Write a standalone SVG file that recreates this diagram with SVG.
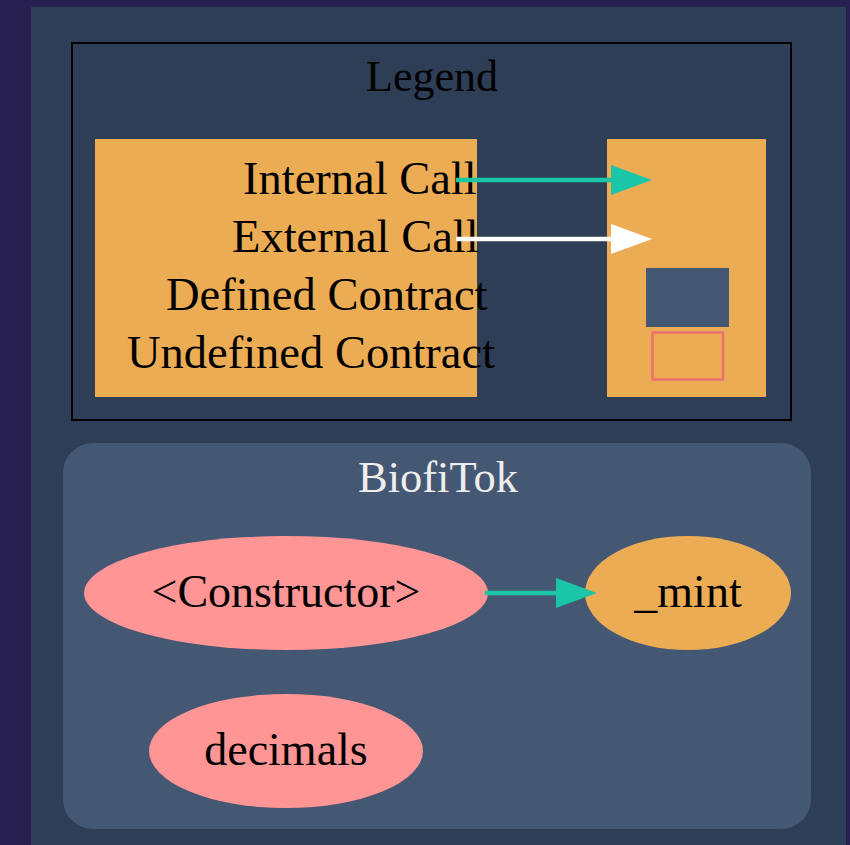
<svg xmlns="http://www.w3.org/2000/svg" width="850" height="845" viewBox="0 0 850 845">
<style>
text{font-family:"Liberation Serif","Times New Roman",serif;fill:#000}
.lbl{font-size:46.5px}
.node{font-size:46px}
.orange{fill:#ecac54}
.pink{fill:#ff9595}
.edge{stroke-width:4.5;fill:none}
</style>
<defs>
<marker id="ahTeal" markerUnits="userSpaceOnUse" markerWidth="42" markerHeight="32" refX="1" refY="16" orient="auto">
<path d="M0,1 L41,16 L0,31 Z" fill="#1bc6a6"/>
</marker>
<marker id="ahWhite" markerUnits="userSpaceOnUse" markerWidth="42" markerHeight="32" refX="1" refY="16" orient="auto">
<path d="M0,1 L41,16 L0,31 Z" fill="#ffffff"/>
</marker>
</defs>
<rect x="0" y="0" width="850" height="845" fill="#271f50"/>
<rect x="31" y="7" width="815" height="838" fill="#2e3e56"/>

<g id="legend">
<rect x="72" y="43" width="719" height="377" fill="none" stroke="#000" stroke-width="2"/>
<text x="432" y="91" text-anchor="middle" style="font-size:44px">Legend</text>
<rect x="95" y="139" width="382" height="258" class="orange"/>
<rect x="607" y="139" width="159" height="258" class="orange"/>
<text class="lbl" x="243" y="194">Internal Call</text>
<text class="lbl" x="232" y="252">External Call</text>
<text class="lbl" x="166" y="310">Defined Contract</text>
<text class="lbl" x="127" y="368">Undefined Contract</text>
<rect x="646" y="268" width="83" height="59" fill="#445773"/>
<rect x="652.5" y="332.5" width="70.5" height="47" fill="none" stroke="#e8726d" stroke-width="2.5"/>
</g>

<g id="cluster_BiofiTok">
<rect x="63" y="443" width="748" height="386" rx="30" ry="30" fill="#445773"/>
<text x="438" y="492" text-anchor="middle" style="font-size:44.5px;fill:#eeeeee">BiofiTok</text>
</g>

<g id="node_constructor">
<ellipse cx="286" cy="593" rx="202" ry="57" class="pink"/>
<text class="node" x="286" y="607" text-anchor="middle">&lt;Constructor&gt;</text>
</g>
<g id="node_mint">
<ellipse cx="688" cy="593" rx="103" ry="57" class="orange"/>
<text class="node" x="688" y="607" text-anchor="middle">_mint</text>
</g>
<g id="node_decimals">
<ellipse cx="286" cy="751" rx="137" ry="57" class="pink"/>
<text class="node" x="286" y="765" text-anchor="middle">decimals</text>
</g>

<g id="connectors">
<line x1="456" y1="180" x2="612" y2="180" class="edge" stroke="#1bc6a6" marker-end="url(#ahTeal)"/>
<line x1="456" y1="239" x2="612" y2="239" class="edge" stroke="#ffffff" marker-end="url(#ahWhite)"/>
<line x1="485" y1="593" x2="557" y2="593" class="edge" stroke="#1bc6a6" marker-end="url(#ahTeal)"/>
</g>
</svg>
